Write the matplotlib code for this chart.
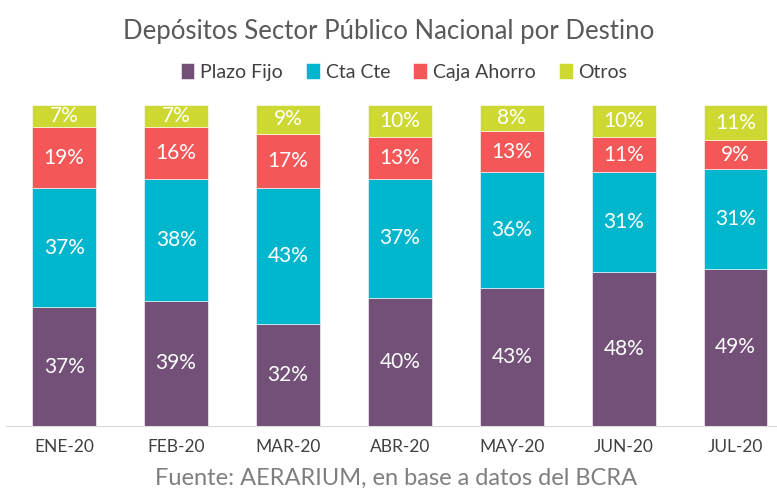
import numpy as np
import matplotlib.pyplot as plt

months = ["ENE-20", "FEB-20", "MAR-20", "ABR-20", "MAY-20", "JUN-20", "JUL-20"]
plazo_fijo = [37, 39, 32, 40, 43, 48, 49]
cta_cte = [37, 38, 43, 37, 36, 31, 31]
caja_ahorro = [19, 16, 17, 13, 13, 11, 9]
otros = [7, 7, 9, 10, 8, 10, 11]

series = [("Plazo Fijo", plazo_fijo, "#735078"),
          ("Cta Cte", cta_cte, "#00B6CD"),
          ("Caja Ahorro", caja_ahorro, "#F45757"),
          ("Otros", otros, "#CDD932")]

plt.rcParams['font.family'] = ['Lato', 'DejaVu Sans']

fig = plt.figure(figsize=(7.77, 4.93), dpi=100)
ax = fig.add_axes([6 / 777, 67 / 493, 771 / 777, 321 / 493])

x = np.arange(len(months))
totals = np.sum([s[1] for s in series], axis=0)
bottom = np.zeros(len(months))
for name, vals, color in series:
    share = np.array(vals) / totals
    ax.bar(x, share, 0.57, bottom=bottom, color=color, label=name,
           edgecolor="white", linewidth=0.4)
    for xi, b, s, v in zip(x, bottom, share, vals):
        ax.text(xi, b + s / 2, f"{v}%", ha="center", va="center",
                color="white", fontsize=15)
    bottom += share

ax.set_xlim(-0.52, 6.37)
ax.set_ylim(0, 1)
ax.set_yticks([])
ax.set_xticks(x)
ax.set_xticklabels(months, fontsize=12.5, color="#404040")
ax.tick_params(axis="x", length=0, pad=9)
for side in ["top", "right", "left"]:
    ax.spines[side].set_visible(False)
ax.spines["bottom"].set_color("#D9D9D9")

fig.text(0.5, 1 - 31 / 493, "Depósitos Sector Público Nacional por Destino",
         ha="center", va="center", fontsize=18.5, color="#595959")
fig.legend(loc="center", bbox_to_anchor=(0.52, 1 - 72 / 493), ncol=4,
           frameon=False, fontsize=14, handlelength=0.7, handleheight=0.9,
           handletextpad=0.3, columnspacing=1.2, labelcolor="#404040")
fig.text(0.51, 1 - 478 / 493, "Fuente: AERARIUM, en base a datos del BCRA",
         ha="center", va="center", fontsize=17, color="#7F7F7F")

fig.savefig("out.png", dpi=100)
